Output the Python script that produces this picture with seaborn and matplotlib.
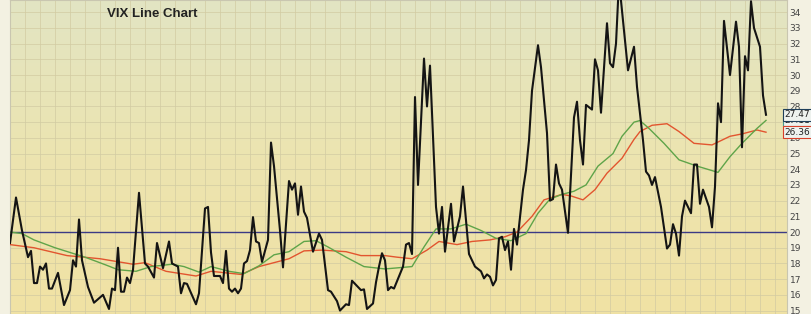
import numpy as np
import pandas as pd
import matplotlib.pyplot as plt
import seaborn as sns
from matplotlib.colors import LinearSegmentedColormap

# VIX close by trading day
vix_days = [0, 2, 4, 6, 7, 8, 9, 10, 11, 12, 13, 14, 16, 18, 20, 21, 22, 23, 24, 26,
            28, 31, 33, 34, 35, 36, 37, 38, 39, 40, 41, 43, 45, 46, 48, 49, 51, 53, 54, 56,
            57, 58, 59, 62, 63, 65, 66, 67, 68, 70, 71, 72, 73, 74, 75, 76, 77, 78, 79, 80,
            81, 82, 83, 84, 86, 87, 88, 90, 91, 93, 94, 95, 96, 97, 98, 99, 101, 103, 104, 106,
            107, 109, 110, 112, 113, 114, 116, 117, 118, 119, 121, 122, 123, 124, 125, 126, 127, 128, 131, 132,
            133, 134, 135, 136, 138, 139, 140, 142, 143, 144, 145, 147, 148, 150, 151, 153, 155, 157, 158, 159,
            160, 161, 162, 163, 164, 165, 166, 167, 168, 169, 171, 172, 173, 174, 176, 177, 179, 180, 181, 182,
            183, 184, 186, 188, 189, 190, 191, 192, 194, 195, 196, 197, 199, 200, 201, 202, 203, 206, 208, 209,
            211, 212, 213, 214, 215, 217, 219, 220, 221, 222, 223, 224, 225, 227, 228, 229, 230, 231, 233, 234,
            235, 236, 237, 238, 240, 242, 243, 244, 245, 246, 247, 248, 250, 251, 252]
vix_vals = [19.3, 22.2, 20.1, 18.4, 18.8, 16.75, 16.75, 17.8, 17.6, 18.0, 16.4, 16.4, 17.4, 15.35, 16.3, 18.2, 17.8, 20.8, 18.2, 16.5,
            15.5, 16.0, 15.1, 16.4, 16.3, 19.0, 16.2, 16.2, 17.1, 16.75, 17.6, 22.5, 18.0, 17.8, 17.1, 19.3, 17.7, 19.4, 18.0, 17.8,
            16.1, 16.75, 16.7, 15.4, 16.1, 21.5, 21.6, 18.7, 17.2, 17.2, 16.75, 18.8, 16.4, 16.2, 16.4, 16.1, 16.4, 18.0, 18.15, 18.85,
            20.95, 19.4, 19.3, 18.1, 19.5, 25.7, 24.2, 20.1, 17.75, 23.25, 22.7, 23.1, 21.1, 22.9, 21.3, 20.9, 18.75, 19.9, 19.5, 16.3,
            16.2, 15.6, 15.0, 15.4, 15.35, 16.9, 16.5, 16.3, 16.35, 15.1, 15.45, 16.8, 17.8, 18.65, 18.2, 16.3, 16.5, 16.4, 17.8, 19.2,
            19.3, 18.6, 28.6, 23.0, 31.05, 28.0, 30.6, 21.6, 19.9, 21.6, 18.75, 21.8, 19.4, 21.0, 22.9, 18.6, 17.8, 17.5, 17.05, 17.3,
            17.15, 16.6, 16.95, 19.6, 19.7, 18.85, 19.4, 17.6, 20.2, 19.2, 22.7, 23.95, 25.85, 29.0, 31.9, 30.5, 26.3, 22.0, 22.1, 24.3,
            23.1, 22.7, 19.95, 27.3, 28.3, 25.85, 24.3, 28.1, 27.8, 31.0, 30.3, 27.6, 33.3, 30.75, 30.5, 32.0, 36.0, 30.3, 31.8, 29.25,
            25.85, 23.85, 23.6, 23.0, 23.5, 21.6, 18.95, 19.2, 20.5, 19.9, 18.5, 21.0, 22.0, 21.2, 24.3, 24.3, 21.8, 22.7, 21.6, 20.3,
            22.9, 28.2, 27.0, 33.45, 30.0, 33.4, 31.8, 25.4, 31.2, 30.3, 34.7, 33.0, 31.8, 28.7, 27.47]

# short moving average (green)
short_days = [0, 4, 8, 15, 20, 25, 32, 36, 42, 47, 54, 58, 63, 67, 73, 78, 83, 88, 93, 98,
              102, 106, 112, 118, 125, 134, 138, 142, 147, 152, 157, 162, 167, 172, 176, 180, 184, 188, 192, 196,
              201, 204, 208, 210, 213, 218, 223, 229, 236, 240, 244, 249, 252]
short_vals = [20.0, 19.9, 19.5, 19.0, 18.7, 18.4, 17.9, 17.6, 17.5, 17.8, 17.95, 17.8, 17.45, 17.8, 17.5, 17.35, 17.85, 18.55, 18.75, 19.4,
              19.45, 19.05, 18.4, 17.8, 17.65, 17.8, 19.05, 20.2, 20.2, 20.5, 20.1, 19.6, 19.45, 19.9, 21.2, 22.1, 22.4, 22.6, 23.0, 24.2,
              25.0, 26.1, 27.0, 27.1, 26.6, 25.65, 24.6, 24.2, 23.8, 24.8, 25.65, 26.6, 27.11]

# long moving average (red)
long_days = [0, 8, 19, 30, 41, 45, 52, 62, 67, 77, 83, 87, 93, 98, 104, 112, 117, 125, 129, 134,
             139, 143, 149, 154, 160, 165, 169, 174, 178, 184, 187, 191, 195, 199, 204, 208, 210, 214, 219, 223,
             228, 234, 240, 244, 249, 252]
long_vals = [19.2, 19.0, 18.5, 18.3, 17.95, 18.05, 17.5, 17.2, 17.5, 17.3, 17.8, 18.0, 18.3, 18.8, 18.85, 18.75, 18.5, 18.5, 18.4, 18.3,
             18.85, 19.4, 19.2, 19.4, 19.5, 19.7, 20.0, 21.0, 22.05, 22.4, 22.3, 22.05, 22.7, 23.75, 24.7, 25.9, 26.4, 26.8, 26.9, 26.4,
             25.65, 25.55, 26.1, 26.25, 26.5, 26.36]

y_ticks = list(range(15, 35))
ref_level = 20

vix = pd.DataFrame({"day": vix_days, "value": vix_vals})
ma_short = pd.DataFrame({"day": short_days, "value": short_vals})
ma_long = pd.DataFrame({"day": long_days, "value": long_vals})

fig = plt.figure(figsize=(8.11, 3.14), dpi=100, facecolor="#f3f1e2")
ax = fig.add_axes([10 / 811, 0, 777 / 811, 1])

xmin, xmax = 0, 259
ymin, ymax = 14.78, 34.78

# yellow gradient background
cmap = LinearSegmentedColormap.from_list("bg", ["#e2e5c3", "#ece4b0", "#f1e2a4"])
grad = np.linspace(0, 1, 256).reshape(-1, 1)
ax.imshow(grad, cmap=cmap, aspect="auto", extent=[xmin, xmax, ymin, ymax],
          origin="upper", zorder=0)

# grid
for d in range(0, 260, 5):
    ax.axvline(d, color="#d2cba2", lw=0.5, zorder=1)
for v in y_ticks:
    ax.axhline(v, color="#d2cba2", lw=0.5, zorder=1)

ax.axhline(ref_level, color="#3b3a85", lw=1.0, zorder=2)

sns.lineplot(data=ma_long, x="day", y="value", ax=ax, color="#e2552f", lw=1.0, zorder=3)
sns.lineplot(data=ma_short, x="day", y="value", ax=ax, color="#5fa449", lw=1.0, zorder=3)
sns.lineplot(data=vix, x="day", y="value", ax=ax, color="#141414", lw=1.5, zorder=4)

ax.set_xlim(xmin, xmax)
ax.set_ylim(ymin, ymax)
ax.set_xlabel("")
ax.set_ylabel("")
ax.set_xticks([])
ax.yaxis.tick_right()
ax.set_yticks(y_ticks)
ax.set_yticklabels([str(t) for t in y_ticks])
ax.tick_params(axis="y", length=0, pad=2, labelsize=6.5, labelcolor="#444444")
for s in ax.spines.values():
    s.set_color("#c9c6b0")
    s.set_linewidth(0.8)

ax.text(0.125, 0.955, "VIX Line Chart", transform=ax.transAxes, fontsize=9.5,
        fontweight="bold", family="Liberation Sans", color="#222222", va="center")

# last value boxes
for val, txt, edge, z in [(short_vals[-1], f"{short_vals[-1]:.2f}", "#4a9a8c", 5),
                          (long_vals[-1], f"{long_vals[-1]:.2f}", "#d8402a", 6),
                          (vix_vals[-1], f"{vix_vals[-1]:.2f}", "#1f3f5a", 7)]:
    ax.annotate(txt, xy=(0.997, val), xycoords=("axes fraction", "data"),
                fontsize=6.5, color="#222222", va="center", ha="left", zorder=z,
                annotation_clip=False,
                bbox=dict(boxstyle="square,pad=0.15", fc="#eef2ee", ec=edge, lw=0.8))

fig.savefig("out.png", dpi=100, facecolor=fig.get_facecolor())
